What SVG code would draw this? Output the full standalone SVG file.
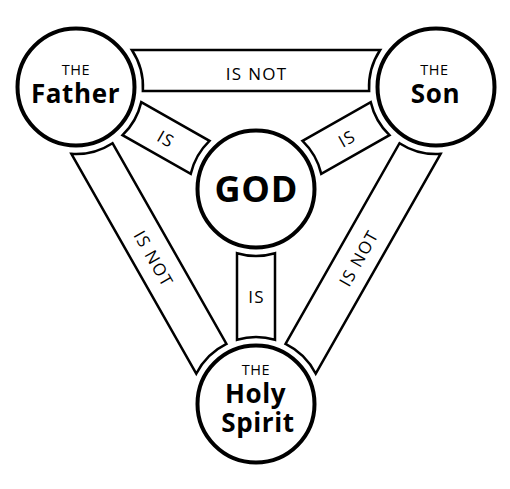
<svg xmlns="http://www.w3.org/2000/svg" width="510" height="489" viewBox="0 0 510 489">
<style>
.bar{fill:#fff;stroke:#000;stroke-width:2.5;stroke-linejoin:miter}
.node{fill:#fff;stroke:#000;stroke-width:4}
.lbl{font-family:"Open Sans","Noto Sans",sans-serif;font-size:17px;letter-spacing:1.3px;fill:#000;text-anchor:middle}
.the{font-family:"Open Sans","Noto Sans",sans-serif;font-size:14.5px;letter-spacing:0.6px;fill:#000;text-anchor:middle}
.name{font-family:"Open Sans","Noto Sans",sans-serif;font-size:26px;letter-spacing:0.6px;font-weight:bold;fill:#000;text-anchor:middle}
.god{font-family:"Open Sans","Noto Sans",sans-serif;font-size:36px;letter-spacing:0.7px;font-weight:bold;fill:#000;text-anchor:middle}
</style>
<rect width="510" height="489" fill="#fff"/>
<g id="connectors">
  <g id="father-son" transform="translate(76,87)">
    <path class="bar" d="M55.86,-37 L304.14,-37 A67,67 0 0 0 293.12,4 L66.88,4 A67,67 0 0 0 55.86,-37 Z"/>
    <text class="lbl" x="180.6" y="-7">IS NOT</text>
  </g>
  <g id="father-spirit" transform="translate(76,87) rotate(60.41)">
    <path class="bar" d="M66.88,-4 L297.66,-4 A67,67 0 0 0 308.68,37 L55.86,37 A67,67 0 0 0 66.88,-4 Z"/>
    <text class="lbl" x="187.6" y="23.5">IS NOT</text>
  </g>
  <g id="spirit-son" transform="translate(256,404) rotate(-60.41)">
    <path class="bar" d="M66.88,-4 L297.66,-4 A67,67 0 0 0 308.68,37 L55.86,37 A67,67 0 0 0 66.88,-4 Z"/>
    <text class="lbl" x="177.6" y="23.5">IS NOT</text>
  </g>
  <g id="father-god" transform="translate(76,87) rotate(29.54)">
    <path class="bar" d="M64.25,-19 L142.64,-19 A67,67 0 0 0 142.64,19 L64.25,19 A67,67 0 0 0 64.25,-19 Z"/>
    <text class="lbl" x="104.1" y="7">IS</text>
  </g>
  <g id="god-son" transform="translate(256,189) rotate(-29.54)">
    <path class="bar" d="M64.25,-19 L142.64,-19 A67,67 0 0 0 142.64,19 L64.25,19 A67,67 0 0 0 64.25,-19 Z"/>
    <text class="lbl" x="104.1" y="7">IS</text>
  </g>
  <g id="god-spirit">
    <path class="bar" d="M237,253.25 A67,67 0 0 0 275,253.25 L275,339.75 A67,67 0 0 0 237,339.75 Z"/>
    <text class="lbl" x="256.6" y="303">IS</text>
  </g>
</g>
<g id="father">
  <circle class="node" cx="76" cy="87" r="58.5"/>
  <text class="the" x="76" y="74.5">THE</text>
  <text class="name" x="75.5" y="103">Father</text>
</g>
<g id="son">
  <circle class="node" cx="436" cy="87" r="58.5"/>
  <text class="the" x="434.5" y="74.5">THE</text>
  <text class="name" x="435.5" y="103">Son</text>
</g>
<g id="god">
  <circle class="node" cx="256" cy="189" r="58.5"/>
  <text class="god" x="256.3" y="202">GOD</text>
</g>
<g id="spirit">
  <circle class="node" cx="256" cy="404" r="58.5"/>
  <text class="the" x="256" y="374.5">THE</text>
  <text class="name" x="255.5" y="403">Holy</text>
  <text class="name" x="258" y="432">Spirit</text>
</g>
</svg>
